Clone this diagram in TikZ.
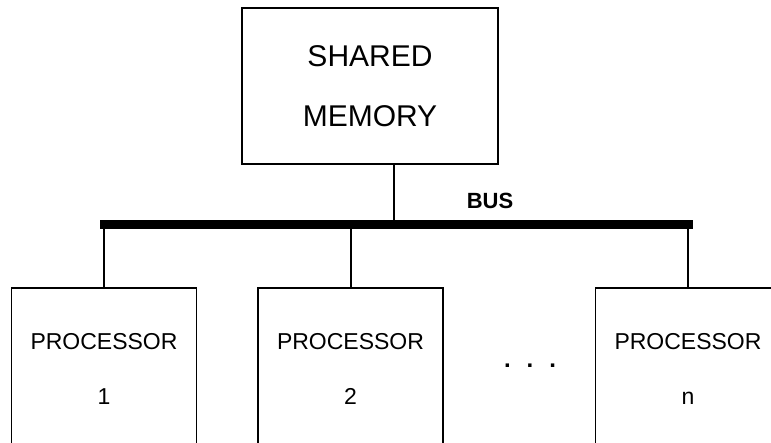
\documentclass[tikz,border=0pt]{standalone}
\usepackage{fontspec}
\setmainfont{Liberation Sans}
\usepackage{tikz}
\usetikzlibrary{calc,positioning}
\tikzset{
  membox/.style={draw,line width=0.8pt,minimum width=128pt,minimum height=78pt,align=center,inner sep=0pt,font=\fontsize{15}{18}\selectfont},
  procbox/.style={draw,line width=0.8pt,minimum width=92.5pt,minimum height=81pt,align=center,inner sep=0pt,font=\fontsize{11.5}{14}\selectfont},
  busline/.style={line width=4.5pt},
  tap/.style={line width=1pt}
}
\begin{document}
\begin{tikzpicture}[x=0.5pt,y=-0.5pt]
  \useasboundingbox (0,0) rectangle (771,443);
  \clip (0,0) rectangle (771,443);
  % memory and bus
  \node[membox] (mem) at (370,86) {SHARED\\[12pt]MEMORY};
  \coordinate (busL) at (100,225);
  \coordinate (busR) at (693,225);
  \coordinate (memtap) at (394,164);
  \draw[busline] (busL) -- (busR);
  \node[font=\bfseries\fontsize{11}{13}\selectfont,anchor=base] (buslbl) at (490,209) {BUS};
  \draw[tap] (memtap) -- (memtap |- busL);
  % processors
  \node[procbox] (p1) at (104,369) {PROCESSOR\\[13.5pt]1};
  \node[procbox] (p2) at (350.5,369) {PROCESSOR\\[13.5pt]2};
  \node[procbox] (pn) at (688,369) {PROCESSOR\\[13.5pt]n};
  \node[font=\bfseries\fontsize{12}{14}\selectfont,anchor=base] (dots) at (530,367) {.\hspace{8pt}.\hspace{8pt}.};
  \draw[tap] (p1.north) -- (p1.north |- busL);
  \draw[tap] (p2.north) -- (p2.north |- busL);
  \draw[tap] (pn.north) -- (pn.north |- busR);
\end{tikzpicture}
\end{document}
